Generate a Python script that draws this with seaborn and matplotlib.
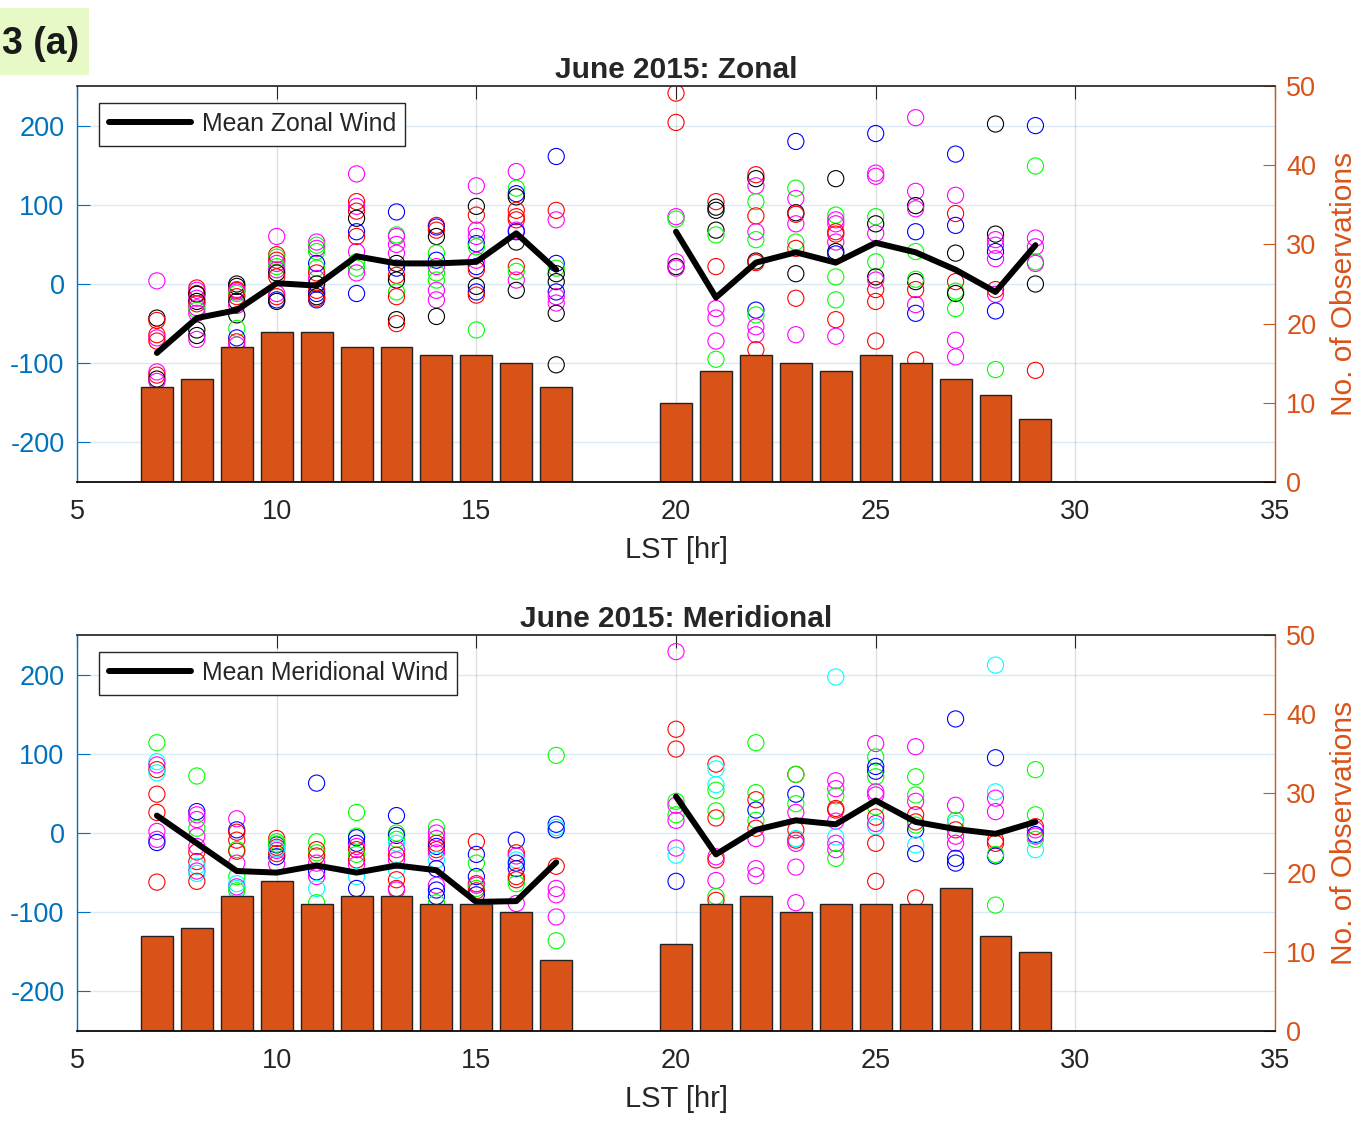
import numpy as np
import pandas as pd
import matplotlib
matplotlib.use("Agg")
import matplotlib.pyplot as plt
import seaborn as sns

# ---------------------------------------------------------------------
# data
# ---------------------------------------------------------------------
hours = [7, 8, 9, 10, 11, 12, 13, 14, 15, 16, 17,
         20, 21, 22, 23, 24, 25, 26, 27, 28, 29]

zonal_mean = [-87, -43, -33, 1, -2, 35, 26, 26, 28, 64, 18,
              66, -17, 27, 40, 27, 52, 40, 18, -10, 49]
merid_mean = [22, -13, -48, -50, -41, -50, -41, -47, -87, -86, -37,
              46, -27, 4, 16, 11, 41, 14, 5, -1, 14]

zonal_count = [12, 13, 17, 19, 19, 17, 17, 16, 16, 15, 12,
               10, 14, 16, 15, 14, 16, 15, 13, 11, 8]
merid_count = [12, 13, 17, 19, 16, 17, 17, 16, 16, 15, 9,
               11, 16, 17, 15, 16, 16, 16, 18, 12, 10]

# individual observations per hour (values) and their colour codes
zonal_pt_vals = [
    [4, -43, -46, -64, -68, -72, -111, -115, -120, -123],
    [-5, -8, -12, -13, -18, -22, -25, -30, -33, -37, -58, -65, -70],
    [0, -3, -7, -8, -10, -12, -16, -22, -27, -39, -56, -68, -73, -77],
    [60, 37, 34, 30, 26, 22, 18, 14, 9, -12, -16, -20, -22],
    [53, 49, 45, 41, 26, 20, 14, 7, 0, -8, -12, -16, -20, -18],
    [139, 104, 98, 92, 83, 66, 60, 41, 28, 20, 14, -12],
    [91, 62, 60, 50, 39, 26, 20, 11, 5, -10, -16, -45, -50],
    [74, 72, 68, 60, 39, 30, 22, 14, 5, -8, -20, -41],
    [124, 98, 87, 68, 60, 51, 47, 30, 22, 18, -3, -10, -14, -58],
    [142, 121, 114, 110, 93, 85, 81, 68, 66, 53, 22, 16, 5, -8],
    [161, 93, 81, 26, 20, 13, 3, -10, -16, -24, -37, -102],
    [241, 204, 85, 82, 28, 22, 20],
    [104, 97, 93, 68, 62, 22, -31, -43, -72, -95],
    [138, 133, 124, 104, 86, 66, 56, 29, 27, -33, -39, -54, -64, -83],
    [180, 121, 108, 90, 88, 76, 53, 45, 13, -18, -64],
    [133, 87, 81, 76, 66, 63, 53, 41, 38, 9, -20, -45, -66],
    [190, 140, 136, 85, 76, 64, 28, 9, 5, -7, -22, -72],
    [210, 117, 99, 95, 66, 41, 3, 6, -7, -26, -37, -96],
    [164, 112, 89, 74, 39, 3, -9, -12, -31, -71, -92],
    [202, 63, 56, 49, 41, 32, -7, -13, -34, -108],
    [200, 149, 58, 47, 28, 26, 0, -109],
]
zonal_pt_cols = [
    "mkrrmrmrkm", "rmrkmkrmgmkkm", "kkmrmgrkmkgbrm", "mrgrmgmkrmrbk",
    "mgmgbgrmkrbkbr", "mrmrkbrmggmb", "bgmmmkbrkgrkr", "rbrkgbmggmmk",
    "mkrmmbgmbrkbrg", "mgbkrrrmbkrgmk", "brmbgkkbmmkk",
    "rrmgmkm", "rkkkgrmmmg", "rkmgrmgkrbgmmr", "bgmkrmgrkrm",
    "kgmmrrmkbggrm", "bmmgkmgkmrrr", "mmkmbgkgrmbr", "bmrbkrgkgmm",
    "kkmmbmrmbg", "bgmmgmkr",
]

merid_pt_vals = [
    [114, 90, 86, 80, 76, 49, 26, 2, -8, -12, -62],
    [72, 27, 23, 17, 6, -4, -17, -24, -36, -42, -48, -51, -61],
    [18, 4, 1, -9, -21, -23, -38, -55, -64, -68, -70, -73],
    [-7, -11, -15, -18, -22, -30, -39, -14, -26, -20],
    [63, -11, -21, -25, -29, -38, -49, -55, -70, -88],
    [26, -4, -6, -13, -17, -21, -27, -34, -40, -55, -70],
    [22, 0, -3, -8, -13, -21, -28, -34, -47, -59, -70, -72],
    [7, 0, -7, -13, -17, -21, -25, -34, -45, -66, -72, -80, -88],
    [-11, -27, -38, -55, -64, -66, -70, -73, -78, -245],
    [-9, -25, -29, -34, -38, -45, -55, -59, -64, -89],
    [98, 11, 7, 4, -42, -70, -78, -106, -136],
    [229, 131, 106, 40, 35, 23, 16, -19, -28, -61],
    [87, 81, 61, 54, 28, 19, -30, -34, -60, -80, -85],
    [114, 51, 42, 29, 16, 6, -7, -45, -54],
    [74, 74, 49, 37, 26, 4, -7, -9, -13, -43, -88],
    [197, 66, 56, 47, 31, 29, 15, -5, -13, -21, -32],
    [113, 96, 84, 78, 71, 52, 48, 33, 20, 8, 12, -13, -61],
    [109, 71, 48, 40, 23, 14, 10, 4, -15, -26, -82],
    [144, 35, 16, 12, 4, -4, -13, -32, -38, -245],
    [212, 95, 52, 44, 27, -9, -13, -29, -27, -91],
    [80, 23, 8, 4, -2, -4, -8, -21],
]
merid_pt_cols = [
    "gcmrcrrmmbr", "gbmmgmmrrcmcr", "mbrrgrmgcmcg", "rgbrmbmgrc",
    "bgrgrmbmcg", "ggbbmrgrmcb", "bgbgcmrmcrrm", "gmmrbrmcbmbbg",
    "rbgbrmgrbr", "brmcbbrrgm", "gbcbrmmmg",
    "mrrgmgmmcb", "rccggrmrmgr", "ggrbgrmmm", "rgbgmrcrmmm",
    "cmmgrrmcmmg", "mgbbgmmgrcmrr", "mggmrrgbcbr", "bmgcrmmbbm",
    "cbcmmrrbgg", "ggrmbmgc",
]

# ---------------------------------------------------------------------
# style
# ---------------------------------------------------------------------
sns.set_theme(style="white")
plt.rcParams["font.family"] = ["Liberation Sans", "DejaVu Sans"]
plt.rcParams["axes.unicode_minus"] = False

BLUE = "#0072BD"
ORANGE = "#D95319"
DARK = "#262626"
PT_COLORS = {"k": "#000000", "r": "#FF0000", "g": "#00FF00",
             "b": "#0000FF", "m": "#FF00FF", "c": "#00FFFF"}
FS = 19.5


def points_frame(vals, cols):
    rows = []
    for h, v, c in zip(hours, vals, cols):
        assert len(v) == len(c), (h, len(v), len(c))
        rows += [(h, vi, ci) for vi, ci in zip(v, c)]
    return pd.DataFrame(rows, columns=["hour", "wind", "col"])


def draw_panel(ax, title, mean, counts, pt_vals, pt_cols, label):
    df = points_frame(pt_vals, pt_cols)

    # scattered observations as open circles
    sns.scatterplot(data=df, x="hour", y="wind", hue="col", palette=PT_COLORS,
                    s=135, linewidth=0.8, legend=False, ax=ax, zorder=2)
    coll = ax.collections[-1]
    coll.set_edgecolors(coll.get_facecolors())
    coll.set_facecolors("none")

    # mean wind, two separate runs (morning / night)
    sns.lineplot(x=hours[:11], y=mean[:11], color="#000000", lw=4.3, ax=ax,
                 label=label, zorder=3)
    sns.lineplot(x=hours[11:], y=mean[11:], color="#000000", lw=4.3, ax=ax,
                 legend=False, zorder=3)

    ax.set_xlim(5, 35)
    ax.set_ylim(-250, 250)
    ax.set_xticks(range(5, 36, 5))
    ax.set_yticks(range(-200, 201, 100))
    ax.set_xlabel("LST [hr]", fontsize=21, color=DARK, labelpad=8)
    ax.set_ylabel("")
    ax.set_title(title, fontsize=21.5, fontweight="bold", pad=6)
    ax.tick_params(axis="x", direction="in", length=9, width=0.8, top=True,
                   labelsize=FS, colors=DARK, pad=12)
    ax.tick_params(axis="y", direction="in", length=9, width=0.8,
                   labelsize=FS, colors=BLUE, pad=9)
    ax.grid(axis="y", color=BLUE, alpha=0.15, lw=1)
    ax.grid(axis="x", color=DARK, alpha=0.15, lw=1)
    ax.set_axisbelow(True)
    for s in ["top", "right", "bottom"]:
        ax.spines[s].set_visible(False)
    ax.spines["left"].set_color(BLUE)
    ax.spines["left"].set_linewidth(1)

    leg = ax.legend(loc="upper left", bbox_to_anchor=(0.0184, 0.958),
                    borderaxespad=0, fontsize=17.9, frameon=True,
                    fancybox=False, edgecolor=DARK, framealpha=1,
                    handlelength=3.3, handletextpad=0.45, borderpad=0.38)
    leg.get_frame().set_linewidth(1)

    # number of observations on the right axis
    ax2 = ax.twinx()
    ax2.bar(hours, counts, width=0.8, color=ORANGE, edgecolor="#222222",
            linewidth=1)
    ax2.set_ylim(0, 50)
    ax2.set_yticks(range(0, 51, 10))
    ax2.tick_params(axis="y", direction="in", length=9, width=0.8,
                    labelsize=FS, colors=ORANGE, pad=8)
    ax2.set_ylabel("No. of Observations", fontsize=21.5, color=ORANGE,
                   labelpad=10)
    ax2.spines["left"].set_visible(False)
    ax2.spines["right"].set_color(ORANGE)
    ax2.spines["right"].set_linewidth(1)
    ax2.spines["top"].set_color(DARK)
    ax2.spines["bottom"].set_color("#000000")
    ax2.grid(False)


fig = plt.figure(figsize=(13.56, 11.39), dpi=100)
ax_top = fig.add_axes([0.0568, 0.5768, 0.8835, 0.3477])
ax_bot = fig.add_axes([0.0568, 0.0948, 0.8835, 0.3477])

draw_panel(ax_top, "June 2015: Zonal", zonal_mean, zonal_count,
           zonal_pt_vals, zonal_pt_cols, "Mean Zonal Wind")
draw_panel(ax_bot, "June 2015: Meridional", merid_mean, merid_count,
           merid_pt_vals, merid_pt_cols, "Mean Meridional Wind")

# panel tag in the top-left corner
fig.patches.append(plt.Rectangle((0, 1 - 75 / 1139), 89 / 1356, 67 / 1139,
                                 transform=fig.transFigure,
                                 facecolor="#e8f9c8", edgecolor="none"))
fig.text(2 / 1356, 1 - 44 / 1139, "3 (a)", ha="left", va="center",
         fontsize=27, fontweight="bold", color="k")

fig.savefig("out.png", dpi=100)
